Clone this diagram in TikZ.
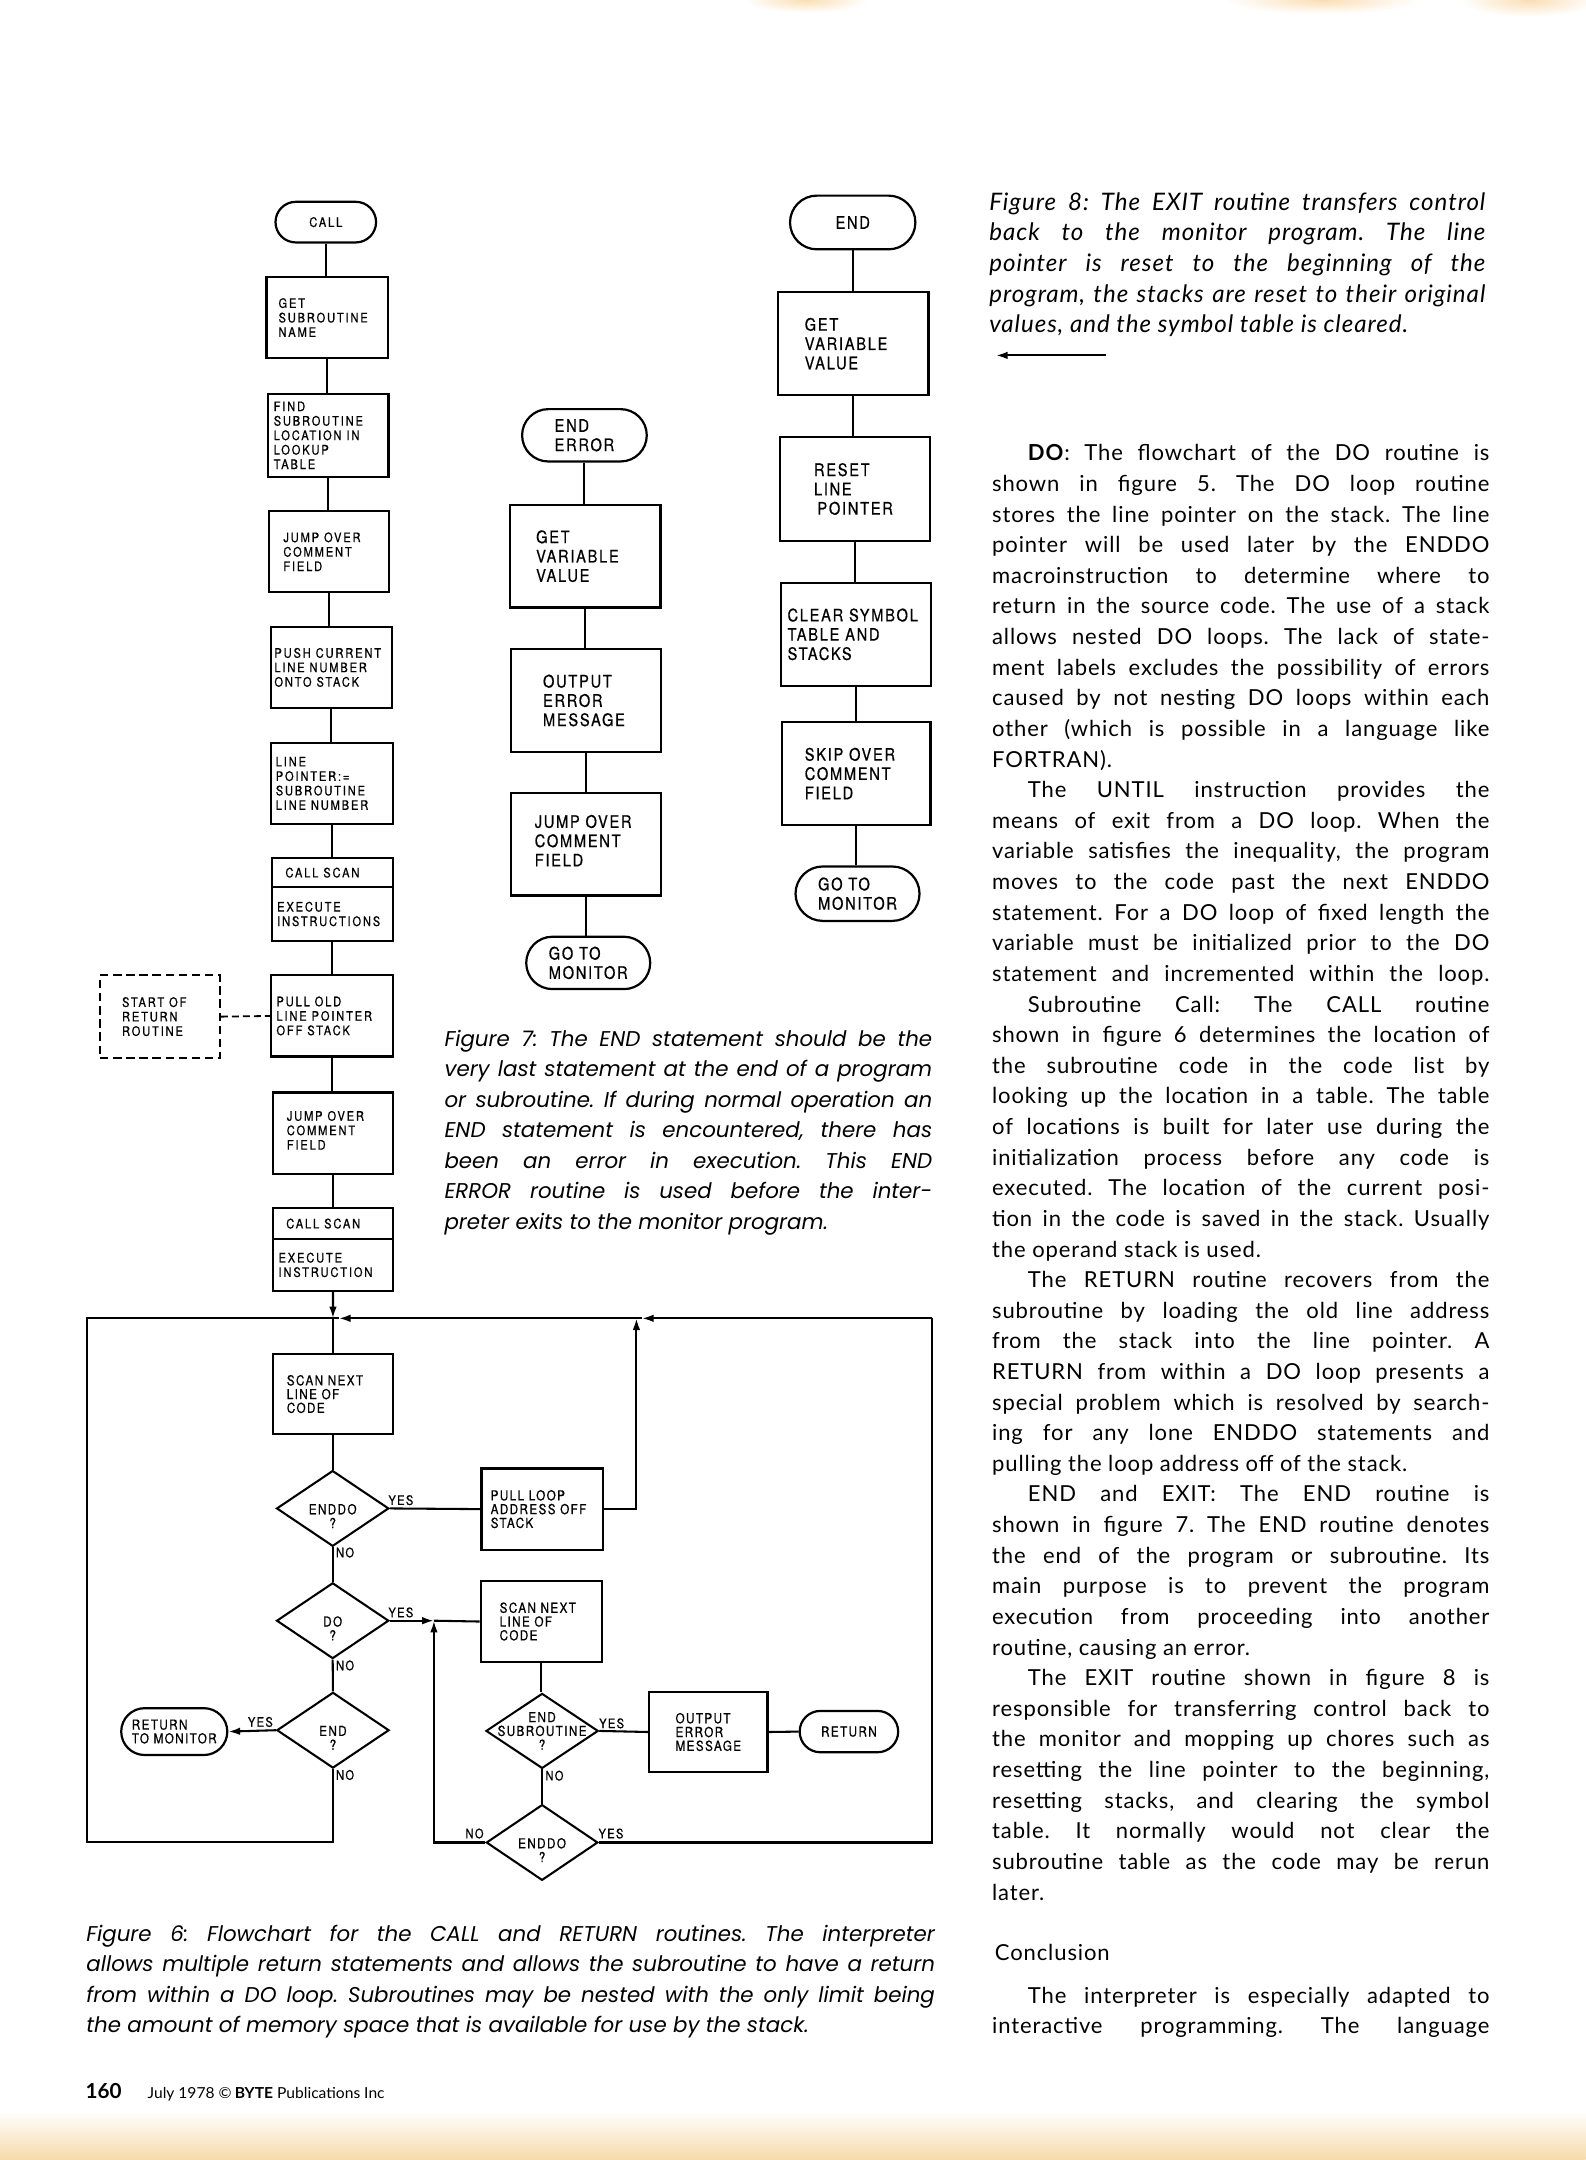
\documentclass[tikz,border=0pt]{standalone}
\usepackage{fontspec}
\usepackage{graphicx}
\setmainfont{Lato}
\newfontfamily\bodyfont[LetterSpace=4]{Lato}
\newfontfamily\capgeo{Poppins}
\newfontfamily\capopt[LetterSpace=4]{Lato}
\newfontfamily\fcfont[FakeStretch=0.85,LetterSpace=14,FakeBold=0.6]{TeX Gyre Heros}
\newfontfamily\fcwide[FakeStretch=0.85,LetterSpace=10,FakeBold=0.6]{TeX Gyre Heros}
\newfontfamily\fcsmall[FakeStretch=0.85,LetterSpace=10,FakeBold=0.6]{TeX Gyre Heros}
\newfontfamily\footcond[FakeStretch=0.8]{Lato}
\usetikzlibrary{shapes.geometric,shapes.misc,arrows.meta}
\newsavebox\jlbox
\newcommand\jline[2]{\sbox\jlbox{#2}\ifdim\wd\jlbox>#1\relax\resizebox{#1}{\height}{#2}\else\makebox[#1][s]{#2}\fi}
\newcommand\fcbox[8]{%
  \pgfmathsetmacro\fcW{#4-#2}\pgfmathsetmacro\fcH{#5-#3}%
  \pgfmathsetmacro\fcX{(#2+#4)/2}\pgfmathsetmacro\fcY{(#3+#5)/2}%
  \node[fcrect,minimum width=\fcW pt,minimum height=\fcH pt] (#1) at (\fcX,\fcY) {};%
  \node[ftext,#7,anchor=west] (#1t) at (#6,\fcY) {#8};}
\newcommand\fcterm[7]{%
  \pgfmathsetmacro\fcW{#4-#2}\pgfmathsetmacro\fcH{#5-#3}%
  \pgfmathsetmacro\fcX{(#2+#4)/2}\pgfmathsetmacro\fcY{(#3+#5)/2}%
  \node[term,minimum width=\fcW pt,minimum height=\fcH pt] (#1) at (\fcX,\fcY) {};%
  \node[ftext,#6] (#1t) at (\fcX,\fcY) {#7};}
\newcommand\fcdia[7]{%
  \node[dia,minimum width=#4pt,minimum height=#5pt] (#1) at (#2,#3) {};%
  \node[ftext,fC,align=center,#6] (#1t) at (#2,#3) {#7};}
\newcommand\BJ[2]{\pgfmathsetmacro\bdY{334.5+22.23*#1}\node[body] (b#1) at (720,\bdY) {\jline{361pt}{#2}};}
\newcommand\BI[2]{\pgfmathsetmacro\bdY{334.5+22.23*#1}\node[body] (b#1) at (746,\bdY) {\jline{335pt}{#2}};}
\newcommand\BE[2]{\pgfmathsetmacro\bdY{334.5+22.23*#1}\node[body] (b#1) at (720,\bdY) {#2};}
\begin{document}
\frenchspacing
\begin{tikzpicture}[x=1pt,y=-1pt,
  fcrect/.style={draw,line width=1.6pt,rectangle,inner sep=0pt},
  dbox/.style={draw,line width=1.3pt,rectangle,inner sep=0pt,dash pattern=on 6pt off 3.5pt},
  term/.style={draw,line width=1.6pt,rounded rectangle,inner sep=0pt},
  dia/.style={draw,line width=1.5pt,diamond,inner sep=0pt},
  ftext/.style={inner sep=0pt,align=left},
  fA/.style={font=\fcfont\fontsize{9.5}{10.5}\selectfont},
  fB/.style={font=\fcwide\fontsize{12.5}{14}\selectfont},
  fC/.style={font=\fcsmall\fontsize{10}{10}\selectfont},
  lbl/.style={inner sep=0pt,font=\fcsmall\fontsize{9.5}{10}\selectfont},
  conn/.style={line width=1.5pt},
  arr/.style={line width=1.5pt,-{Latex[length=8.5pt,width=5.5pt]}},
  body/.style={inner sep=0pt,anchor=base west,font=\bodyfont\fontsize{16}{18}\selectfont},
  capA/.style={inner sep=0pt,anchor=base west,font=\capgeo\itshape\fontsize{15.5}{18}\selectfont},
  capB/.style={inner sep=0pt,anchor=base west,font=\capopt\itshape\fontsize{17.5}{18}\selectfont},
]
\useasboundingbox (0,0) rectangle (1151,1568);
\fill[white] (0,0) rectangle (1151,1568);
\shade[top color=white,bottom color={rgb,255:red,246;green,218;blue,170}] (0,1532) rectangle (1151,1568);
\shade[inner color={rgb,255:red,250;green,222;blue,180},outer color=white] (585,0) ellipse (45pt and 9pt);
\shade[inner color={rgb,255:red,250;green,222;blue,180},outer color=white] (960,0) ellipse (70pt and 10pt);
\shade[inner color={rgb,255:red,250;green,222;blue,180},outer color=white] (1110,0) ellipse (50pt and 12pt);

% ---------------- Figure 6 (left, CALL) ----------------
\fcterm{call}{200}{146.5}{273}{176}{fA}{CALL}
\fcbox{gsn}{193.5}{201}{281.5}{260}{202}{fA}{GET\\SUBROUTINE\\NAME}
\fcbox{fsl}{194.5}{286}{282}{346}{198.5}{fA}{FIND\\SUBROUTINE\\LOCATION IN\\LOOKUP\\TABLE}
\fcbox{joa}{195.5}{371}{282.5}{430}{205.5}{fA}{JUMP OVER\\COMMENT\\FIELD}
\fcbox{pcl}{196.5}{455}{284.5}{514}{199}{fA}{PUSH CURRENT\\LINE NUMBER\\ONTO STACK}
\fcbox{lpt}{197}{539.5}{285}{598}{200}{fA}{LINE\\POINTER:=\\SUBROUTINE\\LINE NUMBER}
\fcbox{csa}{197.5}{623}{285}{644}{207}{fA}{CALL SCAN}
\fcbox{csb}{197.5}{644}{285}{683}{201}{fA}{EXECUTE\\INSTRUCTIONS}
\fcbox{pol}{197}{708}{285}{767}{200.5}{fA}{PULL OLD\\LINE POINTER\\OFF STACK}
\node[dbox,minimum width=87pt,minimum height=60pt] (sor) at (116.2,738) {};
\node[ftext,fA,anchor=west] (sort) at (88.4,738) {START OF\\RETURN\\ROUTINE};
\fcbox{job}{198}{793}{285.5}{852}{208}{fA,yshift=2pt}{JUMP OVER\\COMMENT\\FIELD}
\fcbox{cea}{198}{877}{285.5}{899.5}{207.6}{fA}{CALL SCAN}
\fcbox{ceb}{198}{899.5}{285.5}{937}{202}{fA}{EXECUTE\\INSTRUCTION}

\draw[conn] (call.south) -- (call.south |- gsn.north);
\draw[conn] (gsn.south) -- (gsn.south |- fsl.north);
\draw[conn] (fsl.south) -- (fsl.south |- joa.north);
\draw[conn] (joa.south) -- (joa.south |- pcl.north);
\draw[conn] (pcl.south) -- (pcl.south |- lpt.north);
\draw[conn] (lpt.south) -- (lpt.south |- csa.north);
\draw[conn] (csb.south) -- (csb.south |- pol.north);
\draw[conn] (pol.south) -- (pol.south |- job.north);
\draw[conn] (job.south) -- (job.south |- cea.north);
\draw[line width=1.3pt,dash pattern=on 5pt off 3pt] (sor.east) -- (pol.west);

% ---------------- Figure 6 (bottom, RETURN loop) ----------------
\coordinate (TL) at (63,957);
\coordinate (TR) at (676.5,957);
\coordinate (BL) at (63,1337);
\coordinate (BR) at (676.5,1337.5);
\coordinate (J1) at (241.7,957);
\coordinate (A1) at (246,957);
\coordinate (A2) at (466,957);
\coordinate (PU) at (462,957);
\coordinate (M1) at (315,1176.5);

\fcbox{sna}{198}{983}{285}{1041}{208}{fC}{SCAN NEXT\\LINE OF\\CODE}
\fcdia{ed1}{241.5}{1095}{81.5}{55}{yshift=-5.5pt}{ENDDO\\?}
\fcbox{pla}{349.5}{1066}{437.5}{1125}{356}{fC}{PULL LOOP\\ADDRESS OFF\\STACK}
\fcdia{dod}{241.5}{1176.5}{81.5}{55}{yshift=-5.5pt}{DO\\?}
\fcbox{snb}{349}{1147.5}{437}{1206.7}{362.5}{fC}{SCAN NEXT\\LINE OF\\CODE}
\fcdia{endd}{241.7}{1256}{81.5}{55}{yshift=-5.5pt}{END\\?}
\fcdia{esd}{393.5}{1256.5}{81.5}{54.5}{}{END\\SUBROUTINE\\?}
\fcbox{oeb}{471.3}{1228}{557.2}{1286.6}{490.2}{fC}{OUTPUT\\ERROR\\MESSAGE}
\fcterm{ret}{580.5}{1242}{652}{1272}{fC}{RETURN}
\fcdia{edb}{393.5}{1337.5}{81}{55}{yshift=-5.5pt}{ENDDO\\?}
\fcterm{rtm}{88}{1240}{165}{1274}{fC}{RETURN\\TO MONITOR}

\draw[arr] (ceb.south) -- (J1);
\draw[conn] (J1) -- (J1 |- sna.north);
\draw[conn] (sna.south) -- (sna.south |- ed1.north);
\draw[conn] (ed1.east) -- (pla.west);
\draw[arr] (pla.east) -| (PU);
\draw[conn] (ed1.south) -- (dod.north);
\draw[arr] (dod.east) -- (M1);
\draw[conn] (M1) -- (snb.west);
\draw[conn] (dod.south) -- (endd.north);
\draw[arr] (endd.west) -- (rtm.east);
\draw[conn] (endd.south) -- (endd.south |- BL) -- (BL) -- (TL) -- (J1);
\draw[conn] (snb.south) -- (snb.south |- esd.north);
\draw[conn] (esd.east) -- (oeb.west);
\draw[conn] (oeb.east) -- (ret.west);
\draw[conn] (esd.south) -- (edb.north);
\draw[arr] (edb.west) -- (edb.west -| M1) -- (M1);
\draw[conn] (edb.east) -- (BR) -- (TR);
\draw[arr] (TR) -- (A2);
\draw[arr] (A2) -- (A1);
\draw[conn] (A1) -- (J1);

\node[lbl] (y1) at (291,1089) {YES};
\node[lbl] (n1) at (250.5,1127) {NO};
\node[lbl] (y2) at (291,1170.5) {YES};
\node[lbl] (n2) at (250.5,1209) {NO};
\node[lbl] (y3) at (189,1250) {YES};
\node[lbl] (n3) at (250.5,1288.5) {NO};
\node[lbl] (y4) at (444,1251) {YES};
\node[lbl] (n4) at (402.5,1289) {NO};
\node[lbl] (n5) at (344.5,1331) {NO};
\node[lbl] (y5) at (443.5,1331) {YES};

% ---------------- Figure 7 (END ERROR) ----------------
\fcterm{eer}{379}{297}{469.5}{335}{fB}{END\\ERROR}
\fcbox{gva}{370}{366.5}{479.5}{441}{389}{fB}{GET\\VARIABLE\\VALUE}
\fcbox{oea}{371}{471}{480}{546}{394}{fB}{OUTPUT\\ERROR\\MESSAGE}
\fcbox{joc}{371}{575.5}{480}{650}{388}{fB,yshift=2.5pt}{JUMP OVER\\COMMENT\\FIELD}
\fcterm{gta}{382}{680}{472}{718}{fB}{GO TO\\MONITOR}
\draw[conn] (eer.south) -- (eer.south |- gva.north);
\draw[conn] (gva.south) -- (gva.south |- oea.north);
\draw[conn] (oea.south) -- (oea.south |- joc.north);
\draw[conn] (joc.south) -- (joc.south |- gta.north);

% ---------------- Figure 8 (EXIT) ----------------
\fcterm{enr}{573.5}{142}{664.5}{181}{fB}{END}
\fcbox{gvb}{565}{212}{674}{287}{584}{fB}{GET\\VARIABLE\\VALUE}
\fcbox{rlp}{566}{317.5}{675}{392.5}{590.7}{fB}{RESET\\LINE\\\hspace{2.5pt}POINTER}
\fcbox{cst}{567}{423}{676}{498}{571.5}{fB}{CLEAR SYMBOL\\TABLE AND\\STACKS}
\fcbox{skp}{567.5}{524}{675.5}{599}{584}{fB}{SKIP OVER\\COMMENT\\FIELD}
\fcterm{gtb}{577.5}{629}{667.5}{668.5}{fB}{GO TO\\MONITOR}
\draw[conn] (enr.south) -- (enr.south |- gvb.north);
\draw[conn] (gvb.south) -- (gvb.south |- rlp.north);
\draw[conn] (rlp.south) -- (rlp.south |- cst.north);
\draw[conn] (cst.south) -- (cst.south |- skp.north);
\draw[conn] (skp.south) -- (skp.south |- gtb.north);

\coordinate (f8a) at (803,258);
\coordinate (f8b) at (723,258);
\draw[arr] (f8a) -- (f8b);

% ---------------- Captions ----------------
\node[capB] (c8a) at (718,152.5) {\jline{360pt}{Figure 8: The EXIT routine transfers control}};
\node[capB] (c8b) at (718,174.8) {\jline{360pt}{back to the monitor program. The line}};
\node[capB] (c8c) at (718,197.1) {\jline{360pt}{pointer is reset to the beginning of the}};
\node[capB] (c8d) at (718,219.4) {\jline{360pt}{program, the stacks are reset to their original}};
\node[capB] (c8e) at (718,241.7) {values, and the symbol table is cleared.};

\node[capA] (c7a) at (322.5,759.5) {\jline{354pt}{Figure 7: The END statement should be the}};
\node[capA] (c7b) at (322.5,781.7) {\jline{354pt}{very last statement at the end of a program}};
\node[capA] (c7c) at (322.5,803.8) {\jline{354pt}{or subroutine. If during normal operation an}};
\node[capA] (c7d) at (322.5,826.0) {\jline{354pt}{END statement is encountered, there has}};
\node[capA] (c7e) at (322.5,848.2) {\jline{354pt}{been an error in execution. This END}};
\node[capA] (c7f) at (322.5,870.3) {\jline{354pt}{ERROR routine is used before the inter-}};
\node[capA] (c7g) at (322.5,892.5) {preter exits to the monitor program.};

\node[capA] (c6a) at (62.5,1409.5) {\jline{616pt}{Figure 6: Flowchart for the CALL and RETURN routines. The interpreter}};
\node[capA] (c6b) at (62.5,1431.5) {\jline{616pt}{allows multiple return statements and allows the subroutine to have a return}};
\node[capA] (c6c) at (62.5,1453.5) {\jline{616pt}{from within a DO loop. Subroutines may be nested with the only limit being}};
\node[capA] (c6d) at (62.5,1475.5) {the amount of memory space that is available for use by the stack.};

% ---------------- Body text ----------------
\BI{0}{\textbf{DO}: The flowchart of the DO routine is}
\BJ{1}{shown in figure 5. The DO loop routine}
\BJ{2}{stores the line pointer on the stack. The line}
\BJ{3}{pointer will be used later by the ENDDO}
\BJ{4}{macroinstruction to determine where to}
\BJ{5}{return in the source code. The use of a stack}
\BJ{6}{allows nested DO loops. The lack of state-}
\BJ{7}{ment labels excludes the possibility of errors}
\BJ{8}{caused by not nesting DO loops within each}
\BJ{9}{other (which is possible in a language like}
\BE{10}{FORTRAN).}
\BI{11}{The UNTIL instruction provides the}
\BJ{12}{means of exit from a DO loop. When the}
\BJ{13}{variable satisfies the inequality, the program}
\BJ{14}{moves to the code past the next ENDDO}
\BJ{15}{statement. For a DO loop of fixed length the}
\BJ{16}{variable must be initialized prior to the DO}
\BJ{17}{statement and incremented within the loop.}
\BI{18}{Subroutine Call: The CALL routine}
\BJ{19}{shown in figure 6 determines the location of}
\BJ{20}{the subroutine code in the code list by}
\BJ{21}{looking up the location in a table. The table}
\BJ{22}{of locations is built for later use during the}
\BJ{23}{initialization process before any code is}
\BJ{24}{executed. The location of the current posi-}
\BJ{25}{tion in the code is saved in the stack. Usually}
\BE{26}{the operand stack is used.}
\BI{27}{The RETURN routine recovers from the}
\BJ{28}{subroutine by loading the old line address}
\BJ{29}{from the stack into the line pointer. A}
\BJ{30}{RETURN from within a DO loop presents a}
\BJ{31}{special problem which is resolved by search-}
\BJ{32}{ing for any lone ENDDO statements and}
\BE{33}{pulling the loop address off of the stack.}
\BI{34}{END and EXIT: The END routine is}
\BJ{35}{shown in figure 7. The END routine denotes}
\BJ{36}{the end of the program or subroutine. Its}
\BJ{37}{main purpose is to prevent the program}
\BJ{38}{execution from proceeding into another}
\BE{39}{routine, causing an error.}
\BI{40}{The EXIT routine shown in figure 8 is}
\BJ{41}{responsible for transferring control back to}
\BJ{42}{the monitor and mopping up chores such as}
\BJ{43}{resetting the line pointer to the beginning,}
\BJ{44}{resetting stacks, and clearing the symbol}
\BJ{45}{table. It normally would not clear the}
\BJ{46}{subroutine table as the code may be rerun}
\BE{47}{later.}
\node[body] (concl) at (722,1423.5) {Conclusion};
\node[body] (p1) at (746,1454.5) {\jline{335pt}{The interpreter is especially adapted to}};
\node[body] (p2) at (720,1476.5) {\jline{361pt}{interactive programming. The language}};

% ---------------- Footer ----------------
\node[inner sep=0pt,anchor=base west,font=\bfseries\fontsize{15}{16}\selectfont] (pgno) at (62,1523) {160};
\node[inner sep=0pt,anchor=base west,font=\footcond\fontsize{11}{12}\selectfont] (foot) at (107,1523) {\resizebox{172pt}{\height}{July 1978 \textcopyright\,\textbf{BYTE} Publications Inc}};
\end{tikzpicture}
\end{document}
